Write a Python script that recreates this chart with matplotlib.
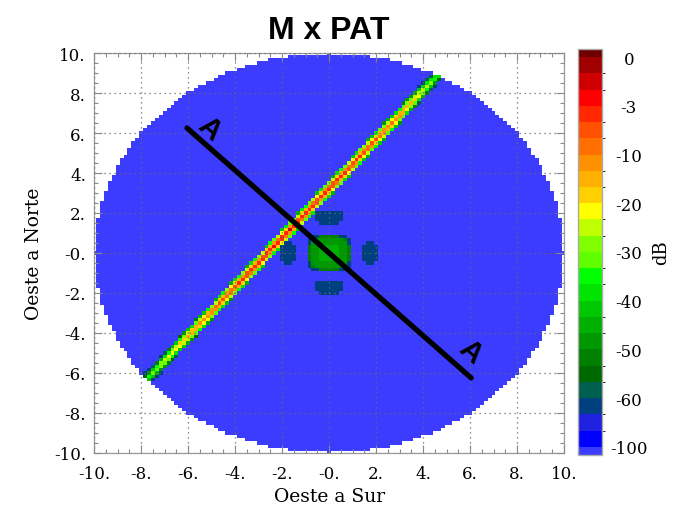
import numpy as np
import matplotlib
matplotlib.use("Agg")
import matplotlib.pyplot as plt
from matplotlib.colors import ListedColormap, BoundaryNorm
from matplotlib.ticker import MultipleLocator, FixedLocator, FixedFormatter

# ---------------------------------------------------------------- colour scale
# one colour per level, from the lowest level (bottom) to the highest (top)
level_colors = [
    "#3c3cff", "#0000ff", "#2020e0", "#004080", "#006050", "#006800",
    "#008000", "#009800", "#00b000", "#00c800", "#00e400", "#00ff00",
    "#60ff00", "#80ff00", "#c0ff00", "#ffff00", "#ffd000", "#ffb000",
    "#ff9000", "#ff7000", "#ff5000", "#ff2800", "#ff0000", "#d00000",
    "#a00000", "#6e0000",
]
cbar_ticks = [-100, -60, -50, -40, -30, -20, -10, -3, 0]
cbar_ticklabels = ["-100", "-60", "-50", "-40", "-30", "-20", "-10", "-3", "0"]
scale_low, scale_high = -110.0, 1.0

# ---------------------------------------------------------------- axis ticks
x_ticks = [-10, -8, -6, -4, -2, 0, 2, 4, 6, 8, 10]
x_ticklabels = ["-10.", "-8.", "-6.", "-4.", "-2.", "-0.", "2.", "4.", "6.", "8.", "10."]
y_ticks = [-10, -8, -6, -4, -2, 0, 2, 4, 6, 8, 10]
y_ticklabels = ["-10.", "-8.", "-6.", "-4.", "-2.", "-0.", "2.", "4.", "6.", "8.", "10."]

# ---------------------------------------------------------------- pattern (dB)
grid_points = 121
disc_radius = 10.0
background_db = -105.0

# main lobe: a narrow ridge crossing the disc
band_start = (-7.66, -6.2)
band_end = (4.55, 8.8)
band_pos_x = [-7.7, -7.0, -6.0, -5.0, -4.0, -3.0, -2.0, -1.0, 0.0, 1.0, 2.0, 3.0, 4.0, 4.6]
band_peak_db = [-34, -24, -14, -8, -4, -2.5, -1.5, -2.5, -3, -4, -6, -10, -22, -34]
band_dist = [0.0, 0.06, 0.12, 0.18, 0.24, 0.27]
band_drop_db = [0.0, 4.0, 13.0, 24.0, 36.0, 42.0]

# central square and its four side lobes
center_half = 0.97
center_r = [0.45, 0.8, 0.9, 1.0]
center_db = [-44, -47, -51, -62]
lobe_x = [0.0, 0.0, -1.75, 1.75]
lobe_y = [1.78, -1.72, 0.0, 0.0]
lobe_hw = [0.56, 0.56, 0.33, 0.33]
lobe_hh = [0.34, 0.34, 0.52, 0.52]
lobe_db = -65.0

# cut A-A
section_x = [-6.05, 6.05]
section_y = [6.25, -6.25]
section_label_x = [-5.1, 6.0]
section_label_y = [6.25, -4.9]

# ---------------------------------------------------------------- build field
xs = np.linspace(-disc_radius, disc_radius, grid_points)
ys = np.linspace(-disc_radius, disc_radius, grid_points)
X, Y = np.meshgrid(xs, ys)

Z = np.full(X.shape, background_db)

p0 = np.array(band_start)
p1 = np.array(band_end)
u = (p1 - p0) / np.linalg.norm(p1 - p0)
dx, dy = X - p0[0], Y - p0[1]
along = dx * u[0] + dy * u[1]
perp = np.abs(dx * u[1] - dy * u[0])
peak = np.interp(p0[0] + along * u[0], band_pos_x, band_peak_db)
drop = np.interp(perp, band_dist, band_drop_db, right=np.inf)
Z = np.maximum(Z, peak - drop)

rc = ((np.abs(X) ** 3 + np.abs(Y) ** 3) ** (1 / 3)) / center_half
inside = rc <= center_r[-1]
idx = np.clip(np.searchsorted(center_r, rc), 0, len(center_r) - 1)
Z = np.where(inside, np.asarray(center_db, float)[idx], Z)

for cx, cy, hw, hh in zip(lobe_x, lobe_y, lobe_hw, lobe_hh):
    rl = ((np.abs(X - cx) / hw) ** 3 + (np.abs(Y - cy) / hh) ** 3) ** (1 / 3)
    Z = np.where(rl <= 1.0, lobe_db, Z)

Z = np.where(X ** 2 + Y ** 2 <= disc_radius ** 2 + 1e-9, Z, np.nan)

# ---------------------------------------------------------------- figure
boundaries = [scale_low]
for a, b in zip(cbar_ticks[:-1], cbar_ticks[1:]):
    boundaries += list(np.linspace(a, b, 4)[:-1])
boundaries += [cbar_ticks[-1], scale_high]
cmap = ListedColormap(level_colors)
norm = BoundaryNorm(boundaries, cmap.N)

serif = "DejaVu Serif"
fig = plt.figure(figsize=(6.73, 5.10), dpi=100, facecolor="white")
ax = fig.add_axes([0.140, 0.110, 0.698, 0.784])
cax = fig.add_axes([0.859, 0.106, 0.036, 0.796])

mesh = ax.pcolormesh(xs, ys, Z, cmap=cmap, norm=norm, shading="nearest", zorder=1)

ax.plot(section_x, section_y, color="black", linewidth=3.8,
        solid_capstyle="round", zorder=5)
line_angle = np.degrees(np.arctan2(
    *(ax.transData.transform((section_x[1], section_y[1]))
      - ax.transData.transform((section_x[0], section_y[0])))[::-1]))
for tx, ty in zip(section_label_x, section_label_y):
    ax.text(tx, ty, "A", fontsize=21, family="Liberation Sans",
            fontweight="bold", color="black",
            rotation=line_angle, rotation_mode="anchor",
            ha="center", va="center", zorder=6)

ax.set_xlim(-10, 10)
ax.set_ylim(-10, 10)
ax.xaxis.set_major_locator(FixedLocator(x_ticks))
ax.xaxis.set_major_formatter(FixedFormatter(x_ticklabels))
ax.yaxis.set_major_locator(FixedLocator(y_ticks))
ax.yaxis.set_major_formatter(FixedFormatter(y_ticklabels))
ax.xaxis.set_minor_locator(MultipleLocator(0.5))
ax.yaxis.set_minor_locator(MultipleLocator(0.5))
ax.tick_params(which="both", direction="in", top=True, right=True,
               color="#8a8a8a", width=0.8)
ax.tick_params(which="major", length=6)
ax.tick_params(which="minor", length=3)
ax.tick_params(axis="x", pad=9)
ax.tick_params(axis="y", pad=6)
for lab in ax.get_xticklabels() + ax.get_yticklabels():
    lab.set_fontfamily(serif)
    lab.set_fontsize(12)
ax.set_axisbelow(False)
ax.grid(True, which="major", linestyle=(0, (1, 3)), color="#6a6a6a", linewidth=0.9)
for sp in ax.spines.values():
    sp.set_color("#9a9a9a")
    sp.set_linewidth(0.9)

ax.set_xlabel("Oeste a Sur", family=serif, fontsize=13.5, labelpad=3)
ax.set_ylabel("Oeste a Norte", family=serif, fontsize=13.5, labelpad=8)
ax.set_title("M x PAT", family="Liberation Sans", fontweight="bold",
             fontsize=23, pad=11)

cbar = fig.colorbar(mesh, cax=cax, spacing="uniform", ticks=cbar_ticks)
cbar.set_ticklabels(cbar_ticklabels)
cax.set_ylim((boundaries[0] + boundaries[1]) / 2, (boundaries[-2] + boundaries[-1]) / 2)
cax.tick_params(length=0, pad=19)
for lab in cax.get_yticklabels():
    lab.set_fontfamily(serif)
    lab.set_fontsize(12)
    lab.set_horizontalalignment("center")
cbar.outline.set_edgecolor("#aaaaaa")
cbar.outline.set_linewidth(1.0)
cbar.set_label("dB", family=serif, fontsize=13, labelpad=3)

fig.savefig("out.png", dpi=100, facecolor="white")
